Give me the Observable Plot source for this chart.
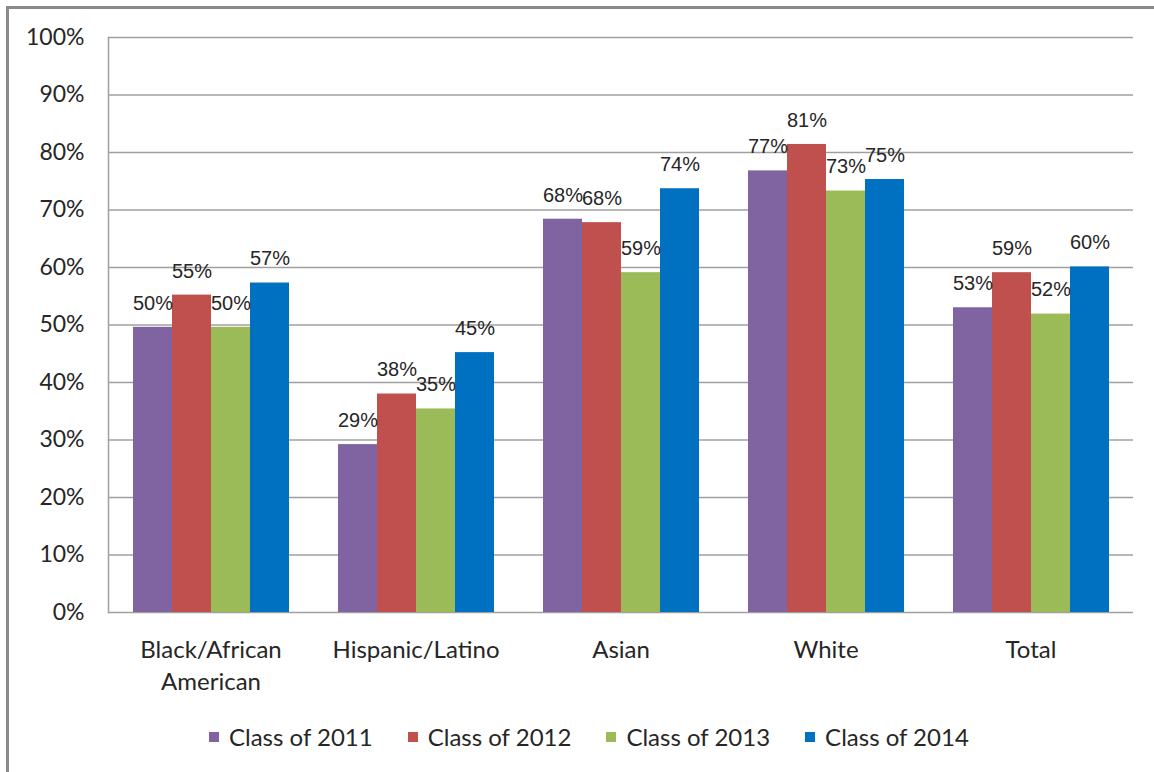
<!DOCTYPE html>
<html>
<head>
<meta charset="utf-8">
<script src="https://cdn.jsdelivr.net/npm/d3@7"></script>
<script src="https://cdn.jsdelivr.net/npm/@observablehq/plot@0.6"></script>
<style>
  html, body { margin: 0; padding: 0; background: #fff; }
  body { position: relative; width: 1154px; height: 772px; overflow: hidden; }
  #border { position: absolute; left: 6px; top: 6px; right: -10px; bottom: -10px;
            border-left: 3px solid #8a8a8a; border-top: 3px solid #8a8a8a; }
  #chart { position: absolute; left: 0; top: 0; }
  #legend { position: absolute; left: 209px; top: 722px; display: flex; gap: 35px;
            font-family: Lato, sans-serif; font-size: 24px; color: #262626; }
  .item { display: flex; align-items: center; }
  .sw { width: 10px; height: 10px; margin-right: 10px; }
</style>
</head>
<body>
<div id="border"></div>
<div id="chart"></div>
<div id="legend"></div>
<script>
const categories = ["Black/African American", "Hispanic/Latino", "Asian", "White", "Total"];
const categoryLabels = ["Black/African\nAmerican", "Hispanic/Latino", "Asian", "White", "Total"];
const series = ["Class of 2011", "Class of 2012", "Class of 2013", "Class of 2014"];
const class2011 = [49.6, 29.2, 68.4, 76.8, 53.0];
const class2012 = [55.2, 38.0, 67.8, 81.4, 59.1];
const class2013 = [49.6, 35.4, 59.1, 73.3, 51.9];
const class2014 = [57.3, 45.2, 73.7, 75.3, 60.1];
const colors = ["#8064A2", "#C0504D", "#9BBB59", "#0070C0"];
const yTicks = [0, 10, 20, 30, 40, 50, 60, 70, 80, 90, 100];

const valuesBySeries = [class2011, class2012, class2013, class2014];
const rows = [];
series.forEach((s, i) => categories.forEach((c, j) => rows.push({category: c, series: s, value: valuesBySeries[i][j]})));
const labelOf = new Map(categories.map((c, i) => [c, categoryLabels[i]]));

const chart = Plot.plot({
  width: 1154,
  height: 700,
  marginLeft: 108,
  marginRight: 21,
  marginTop: 37,
  marginBottom: 88,
  style: {background: "transparent", color: "#262626"},
  fx: {domain: categories, padding: 0, label: null},
  x: {domain: series, paddingInner: 0, paddingOuter: 0.628, axis: null},
  y: {domain: [0, 100], axis: null},
  color: {domain: series, range: colors},
  marks: [
    Plot.ruleY(yTicks, {stroke: "#a0a0a0", strokeWidth: 1.5}),
    Plot.barY(rows, {fx: "category", x: "series", y: "value", fill: "series"}),
    Plot.text(rows, {fx: "category", x: "series", y: "value", text: d => Math.round(d.value) + "%",
      dy: -24, fontSize: 20, fontFamily: "Liberation Sans, Arial, sans-serif", fill: "#262626"}),
    Plot.axisY({ticks: yTicks, tickSize: 0, tickPadding: 24, tickFormat: d => d + "%",
      fontSize: 23, fontFamily: "Lato, sans-serif", label: null, facetAnchor: "left", fill: "#262626"}),
    Plot.axisFx({anchor: "bottom", tickSize: 0, tickPadding: 22, tickFormat: d => labelOf.get(d),
      fontSize: 24, fontFamily: "Lato, sans-serif", label: null, lineHeight: 1.35, fill: "#262626"}),
    Plot.frame({anchor: "left", stroke: "#a0a0a0", strokeWidth: 1.5, facet: "super"})
  ]
});
document.getElementById("chart").append(chart);

const legend = document.getElementById("legend");
series.forEach((s, i) => {
  const item = document.createElement("div");
  item.className = "item";
  const sw = document.createElement("span");
  sw.className = "sw";
  sw.style.background = colors[i];
  const t = document.createElement("span");
  t.textContent = s;
  item.append(sw, t);
  legend.append(item);
});
</script>
</body>
</html>
